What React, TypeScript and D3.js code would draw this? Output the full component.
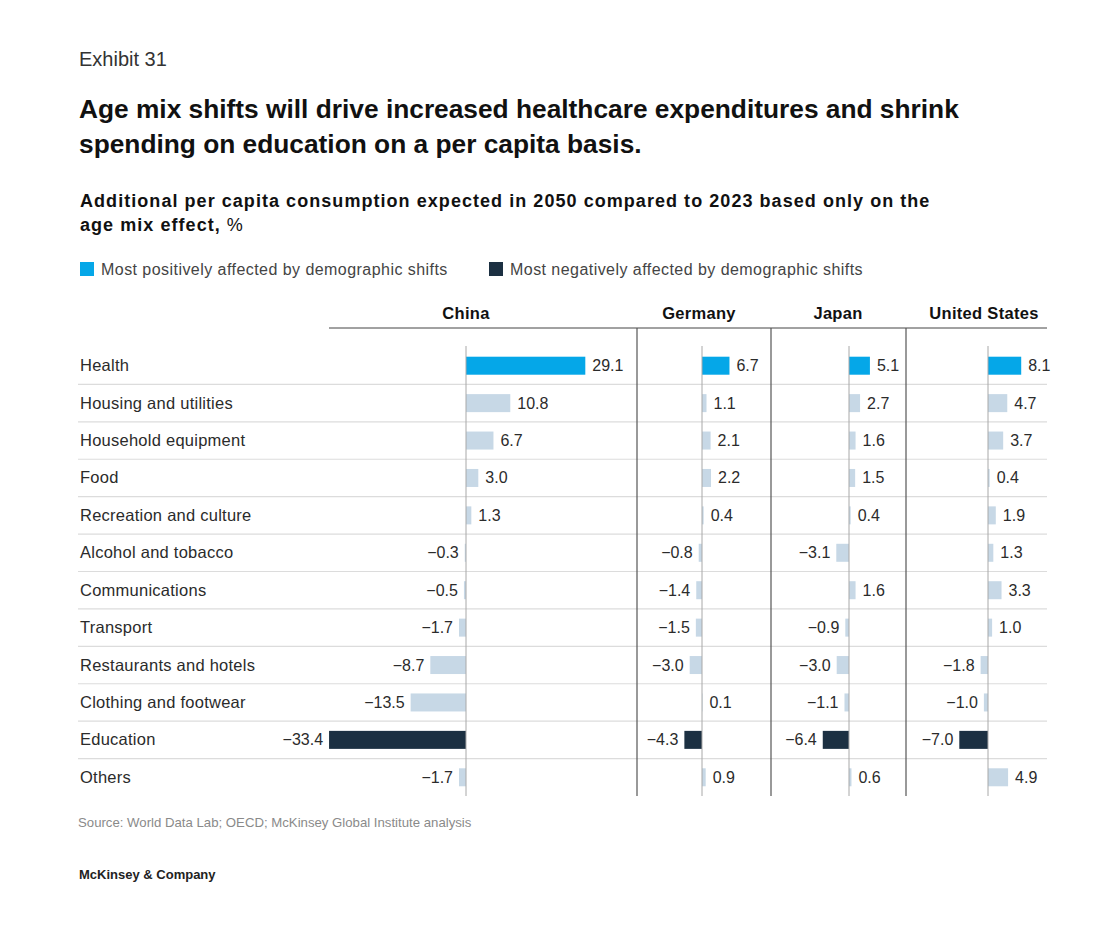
import React from "react";
import * as d3 from "d3";

const categories = [
  "Health",
  "Housing and utilities",
  "Household equipment",
  "Food",
  "Recreation and culture",
  "Alcohol and tobacco",
  "Communications",
  "Transport",
  "Restaurants and hotels",
  "Clothing and footwear",
  "Education",
  "Others",
];

const countries = ["China", "Germany", "Japan", "United States"];

const chinaValues = [29.1, 10.8, 6.7, 3.0, 1.3, -0.3, -0.5, -1.7, -8.7, -13.5, -33.4, -1.7];
const germanyValues = [6.7, 1.1, 2.1, 2.2, 0.4, -0.8, -1.4, -1.5, -3.0, 0.1, -4.3, 0.9];
const japanValues = [5.1, 2.7, 1.6, 1.5, 0.4, -3.1, 1.6, -0.9, -3.0, -1.1, -6.4, 0.6];
const usValues = [8.1, 4.7, 3.7, 0.4, 1.9, 1.3, 3.3, 1.0, -1.8, -1.0, -7.0, 4.9];

const seriesValues = [chinaValues, germanyValues, japanValues, usValues];

const positiveHighlight = "Health";
const negativeHighlight = "Education";

const legendLabels = [
  "Most positively affected by demographic shifts",
  "Most negatively affected by demographic shifts",
];

const COLORS = {
  pos: "#05a7e8",
  neg: "#1c3042",
  other: "#c7d8e6",
  text: "#2b2b2b",
};

const FONT = "'Liberation Sans', Arial, Helvetica, sans-serif";

// layout
const PX_PER_UNIT = 4.1;
const zeroX = [466, 702, 849, 988];
const headerX = [466, 699, 838, 984];
const dividerX = [637, 771, 906];
const headerLineY = 328;
const rowsTop = 347;
const rowsBottom = 796;
const fmt = (v: number) => (v < 0 ? "\u2212" + Math.abs(v).toFixed(1) : v.toFixed(1));

export default function App() {
  const y = d3.scaleBand<string>().domain(categories).range([rowsTop, rowsBottom]).paddingInner(0);
  const barH = 18;
  const xScales = zeroX.map((z) =>
    d3.scaleLinear().domain([0, 1]).range([z, z + PX_PER_UNIT])
  );

  return (
    <svg width={1096} height={933} style={{ display: "block", position: "absolute", left: 0, top: 0, background: "#fff" }} fontFamily={FONT}>
      <rect x={0} y={0} width={1096} height={933} fill="#fff" />
      <text x={79} y={66} fontSize={20} fill="#333">Exhibit 31</text>
      <text x={79} y={118} fontSize={26.3} fontWeight={700} fill="#111">
        Age mix shifts will drive increased healthcare expenditures and shrink
      </text>
      <text x={79} y={153} fontSize={26.3} fontWeight={700} fill="#111">
        spending on education on a per capita basis.
      </text>
      <text x={80} y={207} fontSize={18} fontWeight={700} fill="#111" letterSpacing={1.05}>
        Additional per capita consumption expected in 2050 compared to 2023 based only on the
      </text>
      <text x={80} y={231} fontSize={18} fontWeight={700} fill="#111" letterSpacing={1.05}>
        age mix effect, <tspan fontWeight={400}>%</tspan>
      </text>

      {/* legend */}
      <rect x={80} y={262} width={14} height={14} fill={COLORS.pos} />
      <text x={101} y={275} fontSize={16} fill="#444" letterSpacing={0.45}>{legendLabels[0]}</text>
      <rect x={489} y={262} width={14} height={14} fill={COLORS.neg} />
      <text x={510} y={275} fontSize={16} fill="#444" letterSpacing={0.45}>{legendLabels[1]}</text>

      {/* headers */}
      {countries.map((c, i) => (
        <text key={c} x={headerX[i]} y={319} fontSize={16.5} fontWeight={700} textAnchor="middle" fill="#111" letterSpacing={0.3}>
          {c}
        </text>
      ))}
      <line x1={329} x2={1047} y1={headerLineY} y2={headerLineY} stroke="#444" strokeWidth={1} />

      {/* row separators */}
      {categories.slice(1).map((c) => (
        <line key={c} x1={78} x2={1047} y1={y(c)!} y2={y(c)!} stroke="#dcdcdc" strokeWidth={1.2} />
      ))}

      {/* category labels */}
      {categories.map((c) => (
        <text key={c} x={80} y={y(c)! + y.bandwidth() / 2 + 5.5} fontSize={16.5} fill={COLORS.text} letterSpacing={0.25}>
          {c}
        </text>
      ))}

      {/* panel dividers */}
      {dividerX.map((x) => (
        <line key={x} x1={x} x2={x} y1={headerLineY} y2={rowsBottom} stroke="#555" strokeWidth={1.2} />
      ))}

      {/* bars */}
      {seriesValues.map((vals, pi) => {
        const x = xScales[pi];
        return (
          <g key={pi}>
            {vals.map((v, ri) => {
              const cat = categories[ri];
              const cy = y(cat)! + y.bandwidth() / 2;
              const x0 = x(Math.min(0, v));
              const x1 = x(Math.max(0, v));
              const fill = cat === positiveHighlight ? COLORS.pos : cat === negativeHighlight ? COLORS.neg : COLORS.other;
              const lx = v >= 0 ? x1 + 7 : x0 - 6;
              return (
                <g key={cat}>
                  <rect x={x0} y={cy - barH / 2} width={Math.max(0.5, x1 - x0)} height={barH} fill={fill} />
                  <text x={lx} y={cy + 5.5} fontSize={16} fill={COLORS.text} textAnchor={v >= 0 ? "start" : "end"}>
                    {fmt(v)}
                  </text>
                </g>
              );
            })}
            <line x1={x(0)} x2={x(0)} y1={rowsTop - 1} y2={rowsBottom} stroke="#a8a8a8" strokeWidth={1} />
          </g>
        );
      })}

      <text x={78} y={827} fontSize={13.2} fill="#8a8a8a">
        Source: World Data Lab; OECD; McKinsey Global Institute analysis
      </text>
      <text x={79} y={879} fontSize={13} fontWeight={700} fill="#222">
        McKinsey &amp; Company
      </text>
    </svg>
  );
}
